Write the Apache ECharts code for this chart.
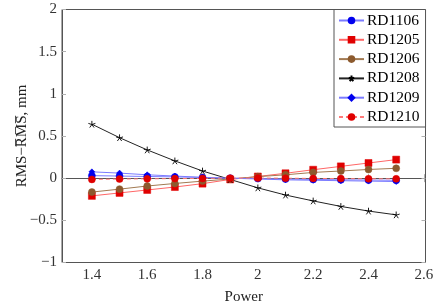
<!DOCTYPE html>
<html><head><meta charset="utf-8">
<script src="https://cdn.jsdelivr.net/npm/echarts@6/dist/echarts.min.js"></script>
<style>html,body{margin:0;padding:0;background:#fff}#c{width:438px;height:304px}</style>
</head><body><div id="c"></div>
<script>
const power = [1.4,1.5,1.6,1.7,1.8,1.9,2.0,2.1,2.2,2.3,2.4,2.5];
const RD1106 = [0.03,0.025,0.02,0.015,0.008,0.0,-0.005,-0.01,-0.015,-0.02,-0.022,-0.025];
const RD1205 = [-0.21,-0.175,-0.14,-0.105,-0.065,-0.015,0.02,0.058,0.10,0.14,0.18,0.22];
const RD1206 = [-0.165,-0.13,-0.093,-0.063,-0.035,-0.01,0.018,0.04,0.068,0.085,0.103,0.117];
const RD1208 = [0.64,0.48,0.335,0.205,0.085,-0.015,-0.115,-0.2,-0.27,-0.335,-0.39,-0.435];
const RD1209 = [0.075,0.06,0.04,0.025,0.01,0.0,-0.01,-0.02,-0.025,-0.03,-0.035,-0.04];
const RD1210 = [-0.015,-0.01,-0.008,-0.005,-0.003,0.0,0.002,0.0,-0.003,-0.005,-0.007,-0.008];
const xTicks = [1.4,1.6,1.8,2.0,2.2,2.4,2.6];
const yTicks = [-1,-0.5,0,0.5,1,1.5,2];

const FONT = 'Liberation Serif';
const starPath = 'path://M5,0L5,5M5,5L9.76,3.45M5,5L7.94,9.05M5,5L2.06,9.05M5,5L0.24,3.45';
function pts(ys){ return power.map((x,i)=>[x, ys[i]]); }
function fmt(v){ return String(+(+v).toFixed(1)).replace('-', '\u2212'); }
function mk(name, ys, lineColor, markColor, symbol, size, dashed){
  return {
    name, type:'line', data: pts(ys), symbol, symbolSize:size, symbolKeepAspect:true,
    showSymbol:true,
    lineStyle:{color:lineColor, width:1, type: dashed ? [4,3] : 'solid'},
    itemStyle: symbol===starPath ? {color:'rgba(0,0,0,0)', borderColor:markColor, borderWidth:0.9}
                                 : {color:markColor, borderColor:markColor, borderWidth:0.5},
    emphasis:{disabled:true}, animation:false, z: 2
  };
}
const chart = echarts.init(document.getElementById('c'), null, {renderer:'canvas'});
const tickStyle = {show:true, inside:true, length:4, lineStyle:{color:'#b0b0b0', width:1}};
chart.setOption({
  animation:false,
  grid:{left:62, right:12.5, top:9.5, bottom:41.5, show:true, borderColor:'#555', borderWidth:1,
        backgroundColor:'transparent', containLabel:false, outerBoundsMode:'none'},
  legend:{
    orient:'vertical', left:334, top:9.5, right:'auto',
    padding:[3,6,2,4], itemGap:3.3, itemWidth:25, itemHeight:7,
    backgroundColor:'#fff', borderColor:'#555', borderWidth:1,
    textStyle:{fontFamily:FONT, fontSize:15.5, lineHeight:15, color:'#000', padding:[0,0,0,-2]},
    data:['RD1106','RD1205','RD1206','RD1208','RD1209','RD1210']
  },
  xAxis:[{
    type:'value', min:1.292, max:2.606,
    name:'Power', nameLocation:'middle', nameGap:27, nameMoveOverlap:false,
    nameTextStyle:{fontFamily:FONT, fontSize:15, color:'#222'},
    axisLine:{show:true, lineStyle:{color:'#555'}},
    axisTick:Object.assign({customValues:xTicks}, tickStyle),
    axisLabel:{customValues:xTicks, formatter:fmt, fontFamily:FONT, fontSize:15, color:'#333', margin:5},
    splitLine:{show:false}
  },{
    type:'value', position:'top', min:1.292, max:2.606,
    axisLine:{show:false}, axisTick:Object.assign({customValues:xTicks}, tickStyle),
    axisLabel:{show:false, customValues:xTicks}, splitLine:{show:false}
  }],
  yAxis:[{
    type:'value', min:-1, max:2, interval:0.5,
    name:'RMS\u2212R\u0305M\u0305S\u0305, mm', nameLocation:'middle', nameGap:32, nameMoveOverlap:false,
    nameTextStyle:{fontFamily:FONT, fontSize:15, color:'#222'},
    axisLine:{show:true, lineStyle:{color:'#555'}},
    axisTick:tickStyle,
    axisLabel:{formatter:fmt, fontFamily:FONT, fontSize:15, color:'#333', margin:5},
    splitLine:{show:false}
  },{
    type:'value', position:'right', min:-1, max:2, interval:0.5,
    axisLine:{show:false}, axisTick:tickStyle, axisLabel:{show:false}, splitLine:{show:false}
  }],
  series:[
    mk('RD1106', RD1106, '#7b7bff', '#0000ee', 'circle', 7, false),
    mk('RD1205', RD1205, '#ff6666', '#e00000', 'rect', 7, false),
    mk('RD1206', RD1206, '#a27a52', '#8c5a2e', 'circle', 7, false),
    mk('RD1208', RD1208, '#222', '#000', starPath, 7, false),
    mk('RD1209', RD1209, '#7b7bff', '#0000ee', 'diamond', 6, false),
    mk('RD1210', RD1210, '#ff7a7a', '#e00000', 'circle', 7, true)
  ]
});
</script></body></html>
